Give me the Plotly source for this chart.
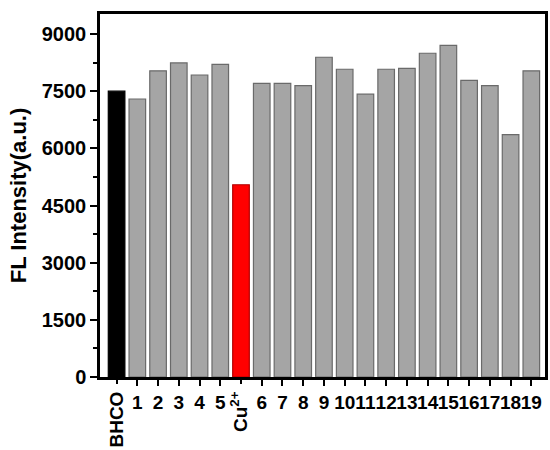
import plotly.graph_objects as go

categories = ["BHCO", "1", "2", "3", "4", "5", "Cu2+", "6", "7", "8", "9", "10",
              "11", "12", "13", "14", "15", "16", "17", "18", "19"]
values = [7500, 7295, 8035, 8240, 7925, 8205, 5045, 7705, 7705, 7645, 8390, 8075,
          7420, 8075, 8100, 8495, 8700, 7785, 7645, 6360, 8035]
rotated_cats = ["BHCO", "Cu2+"]
rotated_text = ["<b>BHCO</b>", "<b>Cu<sup>2+</sup></b>"]
y_ticks = [0, 1500, 3000, 4500, 6000, 7500, 9000]

fill = []
line = []
for c in categories:
    if c == "BHCO":
        fill.append("#000000"); line.append("#000000")
    elif c == "Cu2+":
        fill.append("#ff0000"); line.append("#b00000")
    else:
        fill.append("#a5a5a5"); line.append("#6a6a6a")

FONT = "Liberation Sans, Arial, sans-serif"
XRANGE = [-0.8, 20.66]

fig = go.Figure()
fig.add_trace(go.Bar(
    x=categories, y=values,
    marker=dict(color=fill, line=dict(color=line, width=1.2)),
    showlegend=False,
))
# helper trace (no points) so the overlay axis carrying the rotated labels is drawn
fig.add_trace(go.Scatter(x=[], y=[], xaxis="x2", yaxis="y", showlegend=False,
                         hoverinfo="skip"))

plain_cats = [c for c in categories if c not in rotated_cats]

fig.update_layout(
    width=550, height=450,
    margin=dict(l=100, r=2, t=14, b=73),
    paper_bgcolor="white", plot_bgcolor="white",
    bargap=0.2,
    showlegend=False,
    font=dict(family=FONT, color="black"),
    xaxis=dict(
        type="category", categoryorder="array", categoryarray=categories,
        tickmode="array", tickvals=plain_cats, ticktext=plain_cats,
        range=XRANGE,
        showline=True, linecolor="black", linewidth=2.5, mirror=True,
        ticks="outside", ticklen=6, tickwidth=2, tickcolor="black",
        tickangle=0,
        tickfont=dict(family=FONT, size=19, color="black", weight="bold"),
        showgrid=False, zeroline=False,
    ),
    xaxis2=dict(
        type="category", categoryorder="array", categoryarray=categories,
        overlaying="x", anchor="y", side="bottom",
        tickmode="array", tickvals=rotated_cats, ticktext=rotated_text,
        range=XRANGE,
        showline=False,
        ticks="outside", ticklen=6, tickwidth=2, tickcolor="black",
        tickangle=-90,
        tickfont=dict(family=FONT, size=19, color="black"),
        showgrid=False, zeroline=False,
    ),
    yaxis=dict(
        range=[0, 9525],
        tickvals=y_ticks,
        showline=True, linecolor="black", linewidth=2.5, mirror=True,
        ticks="outside", ticklen=7, tickwidth=2, tickcolor="black",
        minor=dict(dtick=750, ticks="outside", ticklen=4, tickwidth=2, tickcolor="black"),
        tickfont=dict(family=FONT, size=20, color="black", weight="bold"),
        title=dict(text="FL Intensity(a.u.)", standoff=10,
                   font=dict(family=FONT, size=22, color="black", weight="bold")),
        showgrid=False, zeroline=False,
    ),
)

fig.write_html("out.html", config={"displayModeBar": False},
               post_script="document.body.style.margin='0';")
